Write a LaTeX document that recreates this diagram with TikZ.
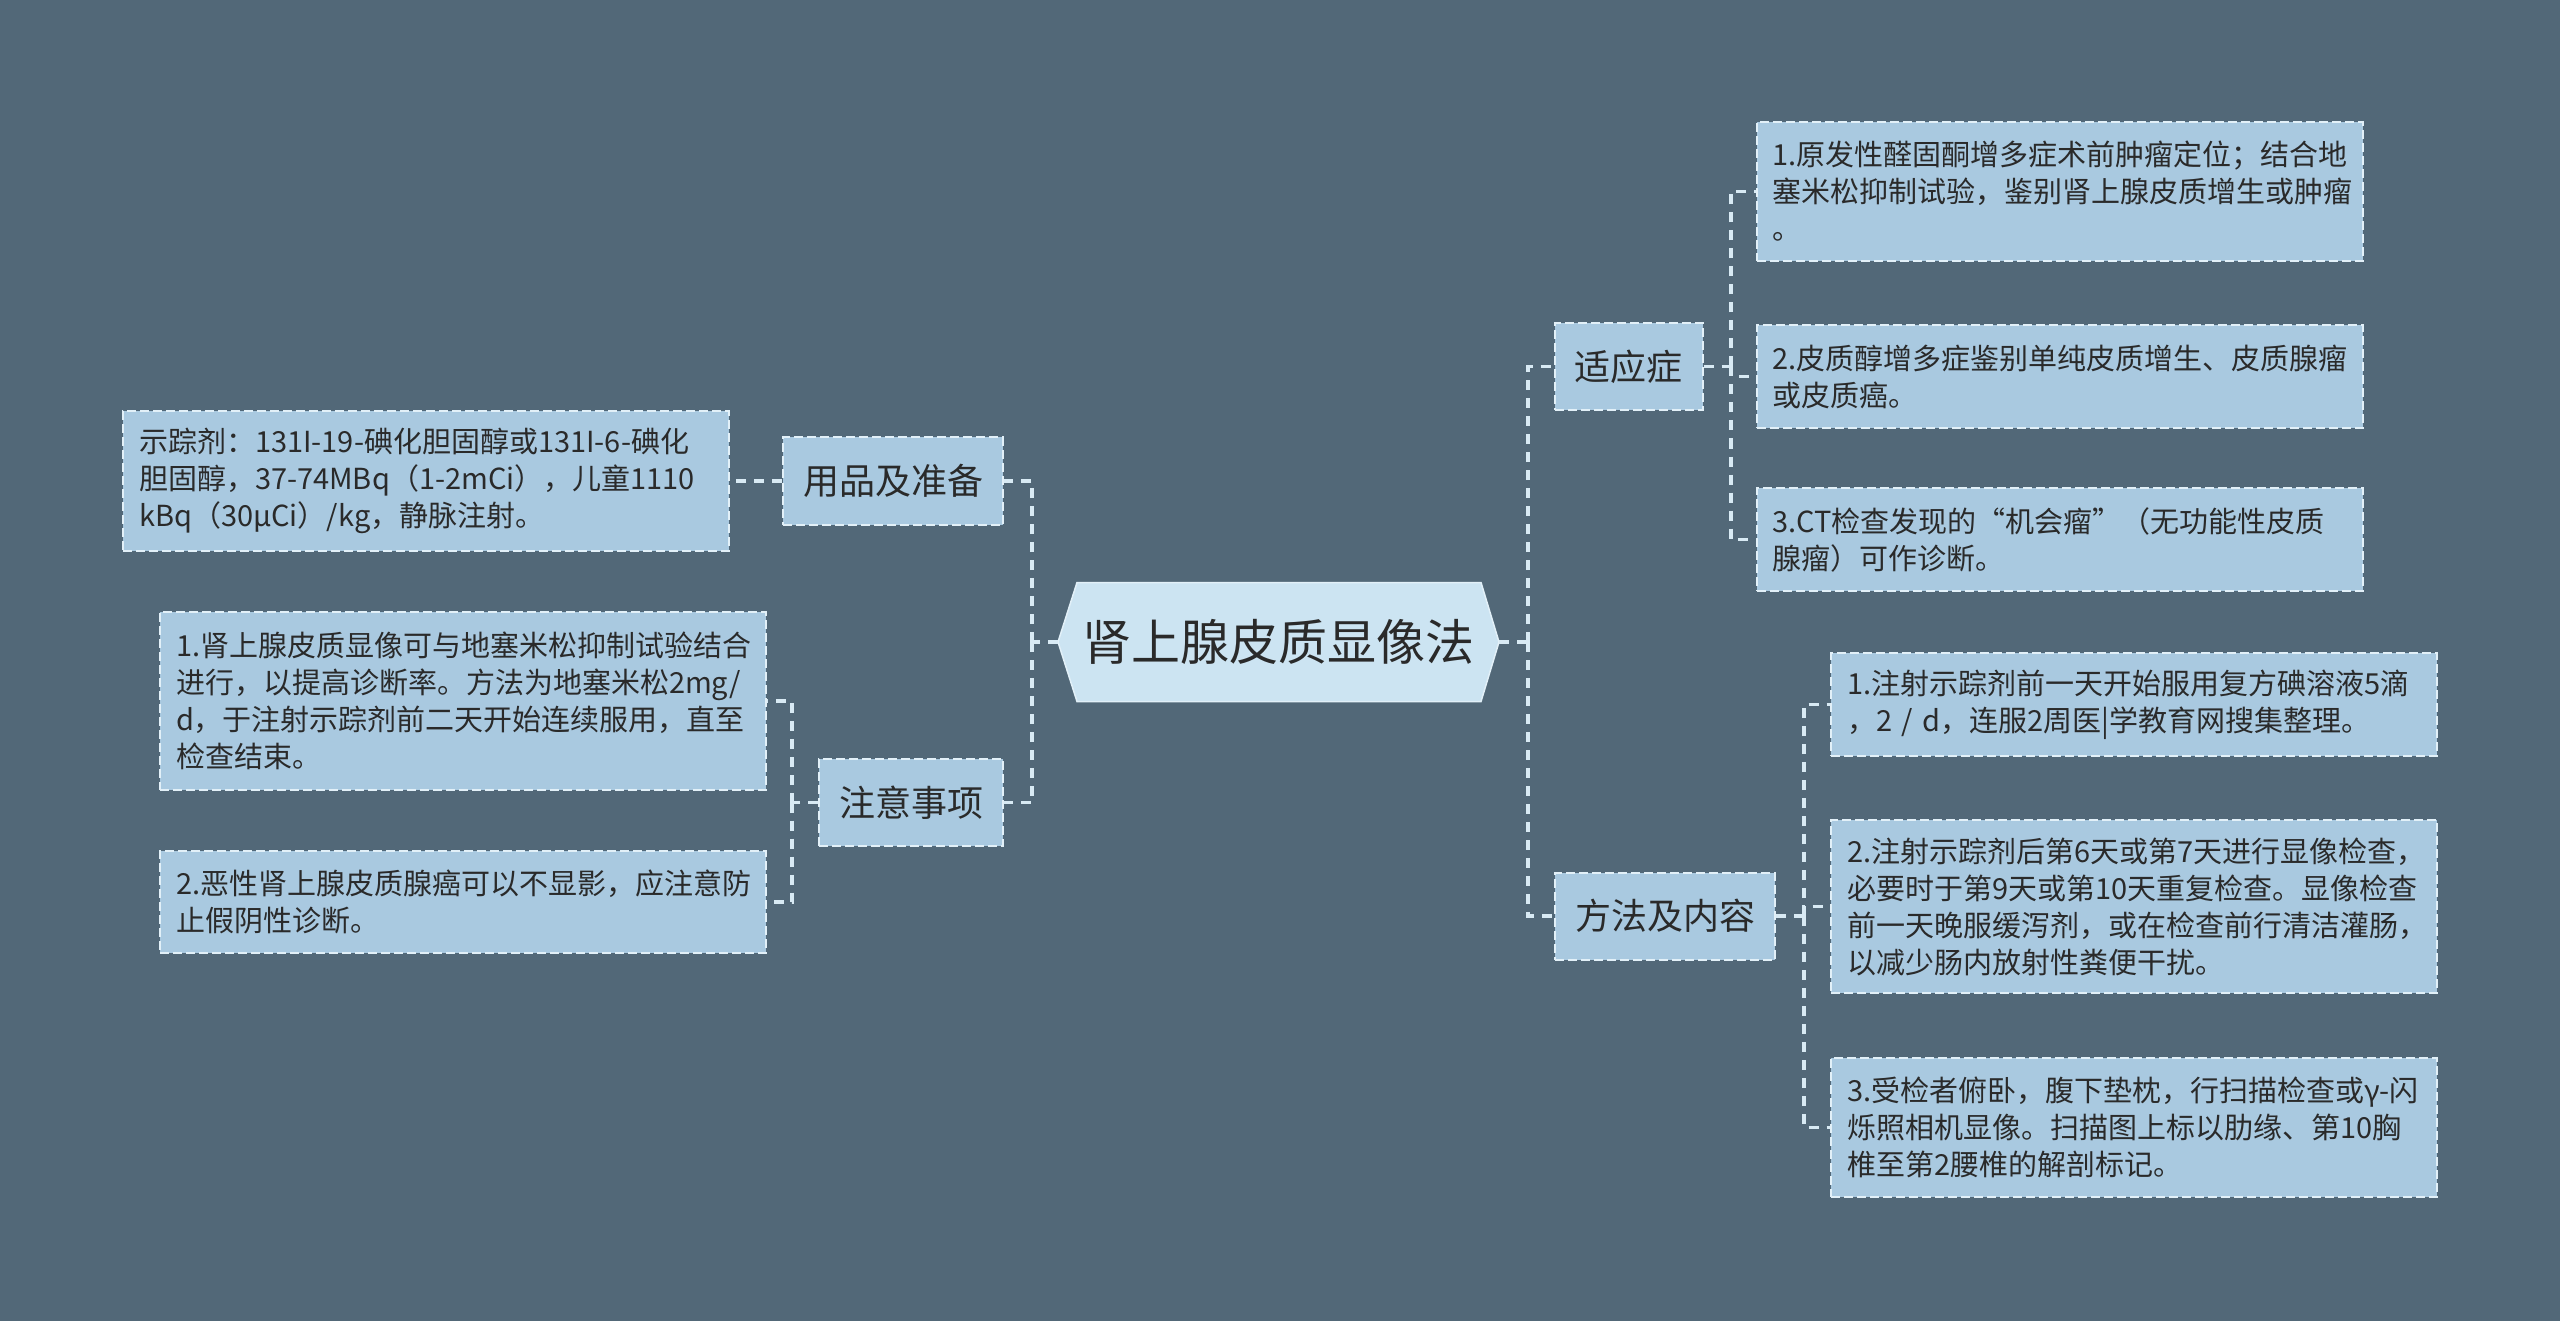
\documentclass[tikz,border=0pt]{standalone}
\usepackage{fontspec}
\setmainfont{Noto Sans CJK SC}
\definecolor{bg}{HTML}{526878}
\definecolor{leaf}{HTML}{A9C9E0}
\definecolor{hexfill}{HTML}{CCE4F2}
\definecolor{ink}{HTML}{2A2A2A}
\definecolor{lineclr}{HTML}{D8EAF4}
\definecolor{borderclr}{HTML}{E2F0F8}
\tikzset{
 conn/.style={draw=lineclr, line width=3.5pt, dash pattern=on 10pt off 8pt},
 boxbase/.style={rectangle, draw=borderclr, line width=2pt, dash pattern=on 9pt off 4pt, fill=leaf, text=ink},
 topic/.style={boxbase, font=\fontsize{36}{44}\selectfont, inner xsep=20pt, inner ysep=0pt, minimum height=87pt},
 leafbox/.style={boxbase, font=\fontsize{29}{37}\selectfont, align=left, text width=574pt, inner xsep=16pt, inner ysep=0pt},
}
\begin{document}
\begin{tikzpicture}[x=1pt,y=-1pt]
\fill[bg] (0,0) rectangle (2560,1321);
\useasboundingbox (0,0) rectangle (2560,1321);

% central hexagon
\fill[hexfill, draw=borderclr, line width=1.5pt] (1058,642) -- (1077,582.5) -- (1481,582.5) -- (1499,642) -- (1481,701.5) -- (1077,701.5) -- cycle;
\node[font=\fontsize{49}{58}\selectfont, text=ink, minimum width=441pt, minimum height=119pt, inner sep=0pt] (hex) at (1278.5,642) {肾上腺皮质显像法};

% level 1
\node[topic] (syz) at (1628.5,366.5) {适应症};
\node[topic] (ff) at (1665,916) {方法及内容};
\node[topic] (yp) at (893,481) {用品及准备};
\node[topic] (zy) at (911,802.5) {注意事项};

% leaves right top
\node[leafbox, minimum height=139pt] (A1) at (2059.5,191.5) {1.原发性醛固酮增多症术前肿瘤定位；结合地\\塞米松抑制试验，鉴别肾上腺皮质增生或肿瘤\\。};
\node[leafbox, minimum height=103pt] (A2) at (2059.5,376.5) {2.皮质醇增多症鉴别单纯皮质增生、皮质腺瘤\\或皮质癌。};
\node[leafbox, minimum height=103pt] (A3) at (2059.5,539.5) {3.CT检查发现的“机会瘤”（无功能性皮质\\腺瘤）可作诊断。};

% leaves right bottom
\node[leafbox, minimum height=103pt] (M1) at (2134,704.5) {1.注射示踪剂前一天开始服用复方碘溶液5滴\\，2 / d，连服2周医|学教育网搜集整理。};
\node[leafbox, minimum height=173pt] (M2) at (2134,906.5) {2.注射示踪剂后第6天或第7天进行显像检查，\\必要时于第9天或第10天重复检查。显像检查\\前一天晚服缓泻剂，或在检查前行清洁灌肠，\\以减少肠内放射性粪便干扰。};
\node[leafbox, minimum height=139pt] (M3) at (2134,1127.5) {3.受检者俯卧，腹下垫枕，行扫描检查或γ-闪\\烁照相机显像。扫描图上标以肋缘、第10胸\\椎至第2腰椎的解剖标记。};

% leaves left
\node[leafbox, minimum height=140pt] (T) at (426,481) {示踪剂：131I-19-碘化胆固醇或131I-6-碘化\\胆固醇，37-74MBq（1-2mCi），儿童1110\\kBq（30μCi）/kg，静脉注射。};
\node[leafbox, minimum height=178pt] (N1) at (463,701) {1.肾上腺皮质显像可与地塞米松抑制试验结合\\进行，以提高诊断率。方法为地塞米松2mg/\\d，于注射示踪剂前二天开始连续服用，直至\\检查结束。};
\node[leafbox, minimum height=102pt] (N2) at (463,902) {2.恶性肾上腺皮质腺癌可以不显影，应注意防\\止假阴性诊断。};

% connectors
\coordinate (tR) at (1528,642);
\draw[conn] (hex.east) -- (tR);
\draw[conn] (tR) |- (syz.west);
\draw[conn] (tR) |- (ff.west);

\coordinate (tL) at (1032,642);
\draw[conn] (hex.west) -- (tL);
\draw[conn] (tL) |- (yp.east);
\draw[conn] (tL) |- (zy.east);

\draw[conn] (yp.west) -- (T.east);

\coordinate (sA) at (1731,366.5);
\draw[conn] (syz.east) -- (sA);
\draw[conn] (sA) |- (A1.west);
\draw[conn] (sA) |- (A2.west);
\draw[conn] (sA) |- (A3.west);

\coordinate (sM) at (1804,916);
\draw[conn] (ff.east) -- (sM);
\draw[conn] (sM) |- (M1.west);
\draw[conn] (sM) |- (M2.west);
\draw[conn] (sM) |- (M3.west);

\coordinate (sN) at (792,802.5);
\draw[conn] (zy.west) -- (sN);
\draw[conn] (sN) |- (N1.east);
\draw[conn] (sN) |- (N2.east);
\end{tikzpicture}
\end{document}
